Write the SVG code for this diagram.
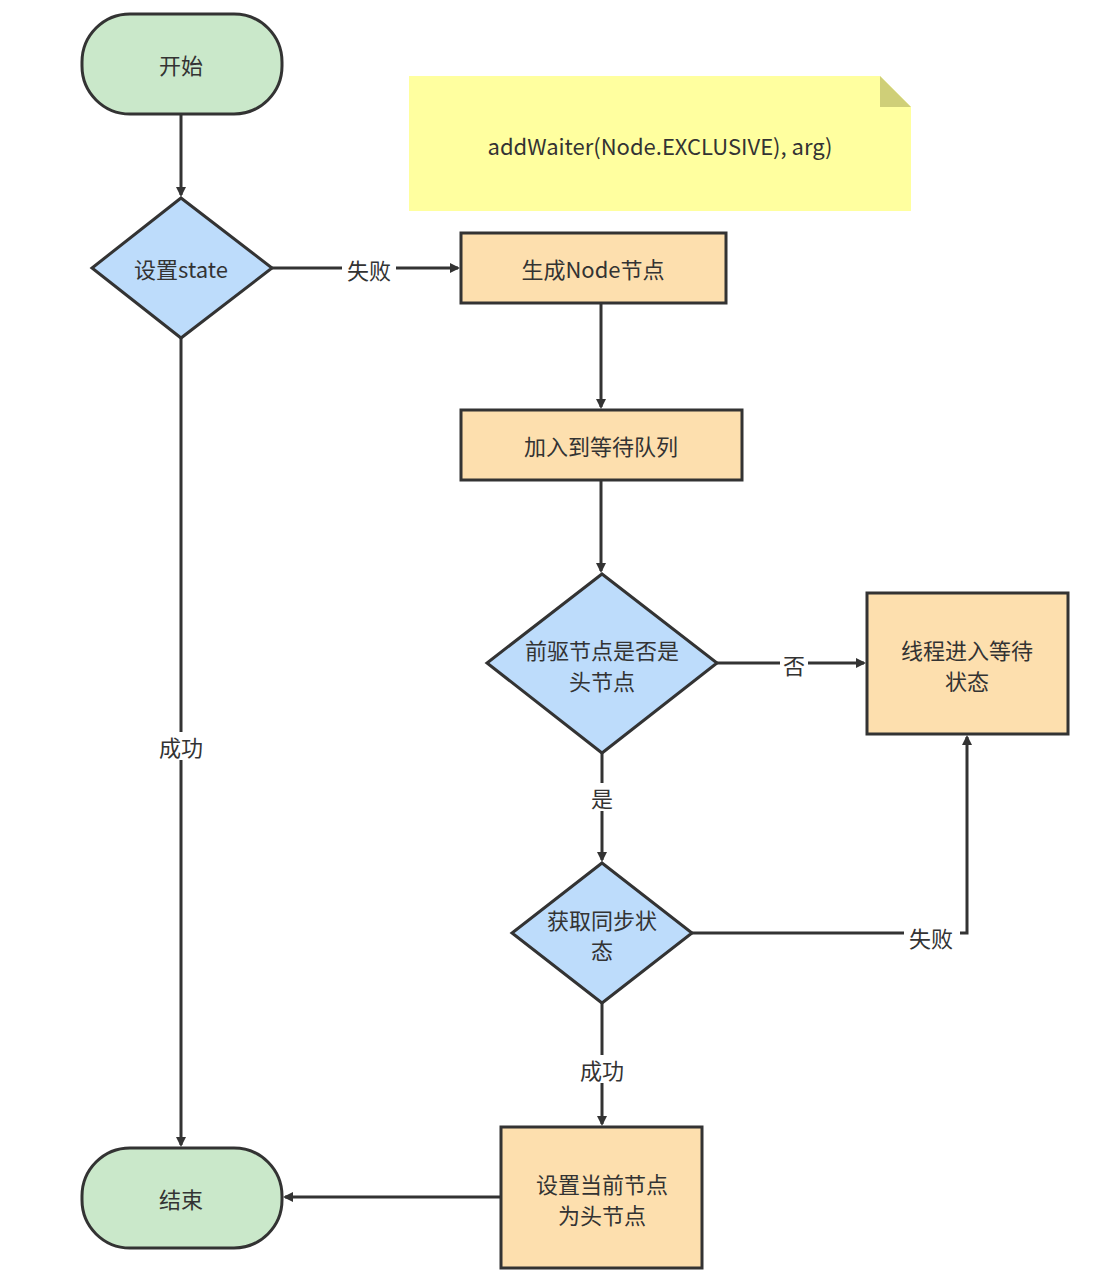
<svg xmlns="http://www.w3.org/2000/svg" width="1102" height="1288" viewBox="0 0 1102 1288">
<style>
.n{stroke:#333;stroke-width:3}
.g{fill:#cae8ca}.b{fill:#bddcfb}.o{fill:#fddfae}
text{font-family:"Noto Sans CJK SC","Liberation Sans",sans-serif;font-size:22px;fill:#333;text-anchor:middle;dominant-baseline:central}
.c{fill:none;stroke:#333;stroke-width:3;marker-end:url(#a)}
.l{fill:#fff;stroke:none}
</style>
<defs><marker id="a" markerWidth="10" markerHeight="10" refX="8" refY="5" orient="auto" markerUnits="userSpaceOnUse" viewBox="0 0 10 10"><path d="M0,0 L10,5 L0,10 Z" fill="#333"/></marker></defs>
<rect width="1102" height="1288" fill="#fff"/>
<g id="note"><path d="M409,76 H880 L911,107 V211 H409 Z" fill="#ffff9f"/><path d="M880,76 L911,107 H880 Z" fill="#cfcf78"/><text x="660" y="145">addWaiter(Node.EXCLUSIVE), arg)</text></g>
<g id="connectors">
<path class="c" d="M181,114 V195"/>
<path class="c" d="M272,268 H458"/>
<path class="c" d="M181,338 V1145"/>
<path class="c" d="M601,303 V407"/>
<path class="c" d="M601,480 V571"/>
<path class="c" d="M717,663 H864"/>
<path class="c" d="M602,753 V860"/>
<path class="c" d="M692,933 H967 V737"/>
<path class="c" d="M602,1003 V1124"/>
<path class="c" d="M501,1197 H285"/>
<rect class="l" x="342" y="255" width="54" height="28"/><text x="369" y="269">失败</text>
<rect class="l" x="154" y="732" width="54" height="28"/><text x="181" y="746">成功</text>
<rect class="l" x="780" y="650" width="28" height="28"/><text x="794" y="664">否</text>
<rect class="l" x="588" y="783" width="28" height="28"/><text x="602" y="797">是</text>
<rect class="l" x="904" y="923" width="56" height="28"/><text x="931" y="937">失败</text>
<rect class="l" x="575" y="1055" width="54" height="28"/><text x="602" y="1069">成功</text>
</g>
<g id="start"><rect class="n g" x="82" y="14" width="200" height="100" rx="48"/><text x="181" y="64">开始</text></g>
<g id="setstate"><path class="n b" d="M181,198 L272,268 L181,338 L92,268 Z"/><text x="181" y="268">设置state</text></g>
<g id="gen"><rect class="n o" x="461" y="233" width="265" height="70"/><text x="593" y="268">生成Node节点</text></g>
<g id="enq"><rect class="n o" x="461" y="410" width="281" height="70"/><text x="601" y="445">加入到等待队列</text></g>
<g id="pred"><path class="n b" d="M602,574 L717,663 L602,753 L487,663 Z"/><text x="602" y="649">前驱节点是否是</text><text x="602" y="680">头节点</text></g>
<g id="wait"><rect class="n o" x="867" y="593" width="201" height="141"/><text x="967" y="649">线程进入等待</text><text x="967" y="680">状态</text></g>
<g id="acq"><path class="n b" d="M602,863 L692,933 L602,1003 L512,933 Z"/><text x="602" y="919">获取同步状</text><text x="602" y="949">态</text></g>
<g id="sethead"><rect class="n o" x="501" y="1127" width="201" height="141"/><text x="602" y="1183">设置当前节点</text><text x="602" y="1214">为头节点</text></g>
<g id="end"><rect class="n g" x="82" y="1148" width="200" height="100" rx="48"/><text x="181" y="1198">结束</text></g>
</svg>
